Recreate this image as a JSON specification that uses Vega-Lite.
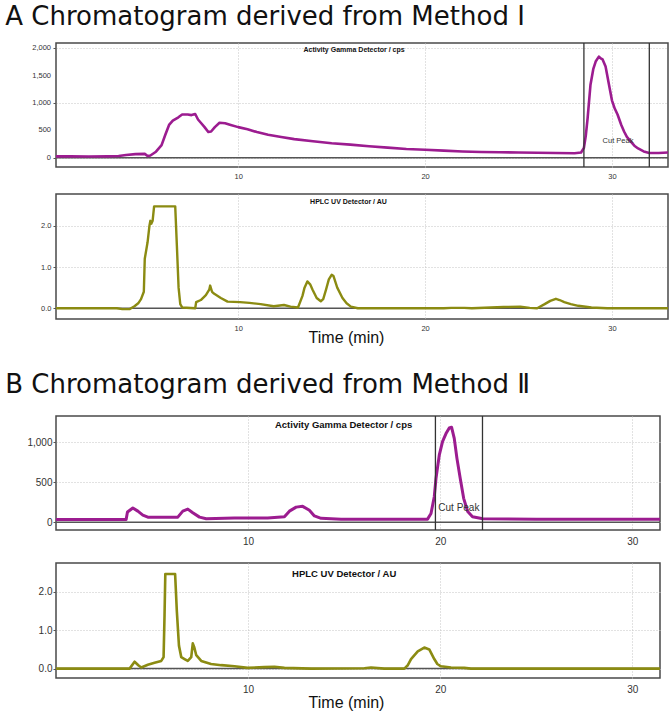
{
  "$schema": "https://vega.github.io/schema/vega-lite/v6.json",
  "background": "white",
  "padding": {"left": 5, "top": 3, "right": 0, "bottom": 0},
  "config": {
    "view": {"stroke": "#4a4a4a", "strokeWidth": 1.5},
    "axis": {
      "labelFont": "Liberation Sans",
      "labelColor": "#333333",
      "labelOverlap": false,
      "titleFont": "Liberation Sans",
      "titleFontWeight": "normal",
      "titleColor": "#111111",
      "grid": true,
      "gridColor": "#c4c4c4",
      "gridDash": [1, 2],
      "gridWidth": 1,
      "domain": false,
      "tickColor": "#555555"
    },
    "title": {"font": "DejaVu Sans", "fontWeight": "normal", "color": "#111111", "anchor": "start", "frame": "bounds"}
  },
  "datasets": {
    "gammaA": [
      {"t": 0, "v": 25}, {"t": 1, "v": 25}, {"t": 2, "v": 22}, {"t": 3, "v": 25}, {"t": 3.6, "v": 30},
      {"t": 4.0, "v": 50}, {"t": 4.5, "v": 65}, {"t": 5.0, "v": 70}, {"t": 5.15, "v": 30}, {"t": 5.3, "v": 40},
      {"t": 5.6, "v": 110}, {"t": 5.9, "v": 230}, {"t": 6.1, "v": 420}, {"t": 6.3, "v": 600}, {"t": 6.5, "v": 680},
      {"t": 6.8, "v": 740}, {"t": 7.0, "v": 790}, {"t": 7.3, "v": 790}, {"t": 7.5, "v": 780}, {"t": 7.7, "v": 800},
      {"t": 7.85, "v": 700}, {"t": 8.0, "v": 640}, {"t": 8.2, "v": 560}, {"t": 8.4, "v": 470}, {"t": 8.55, "v": 480},
      {"t": 8.75, "v": 560}, {"t": 9.0, "v": 640}, {"t": 9.3, "v": 630}, {"t": 9.6, "v": 600}, {"t": 10.0, "v": 560},
      {"t": 10.5, "v": 520}, {"t": 11.0, "v": 470}, {"t": 11.6, "v": 420}, {"t": 12.3, "v": 380}, {"t": 13.0, "v": 340},
      {"t": 14.0, "v": 300}, {"t": 15.0, "v": 265}, {"t": 16.0, "v": 240}, {"t": 17.0, "v": 210}, {"t": 18.0, "v": 185},
      {"t": 19.0, "v": 160}, {"t": 20.0, "v": 145}, {"t": 21.0, "v": 130}, {"t": 22.0, "v": 115}, {"t": 23.0, "v": 105},
      {"t": 24.0, "v": 100}, {"t": 25.0, "v": 95}, {"t": 26.0, "v": 90}, {"t": 27.0, "v": 85}, {"t": 28.0, "v": 82},
      {"t": 28.35, "v": 95}, {"t": 28.5, "v": 180}, {"t": 28.6, "v": 400}, {"t": 28.7, "v": 730}, {"t": 28.85, "v": 1330},
      {"t": 29.0, "v": 1620}, {"t": 29.13, "v": 1760}, {"t": 29.3, "v": 1850}, {"t": 29.4, "v": 1820}, {"t": 29.5, "v": 1800},
      {"t": 29.66, "v": 1670}, {"t": 29.84, "v": 1340}, {"t": 30.0, "v": 1050}, {"t": 30.15, "v": 900}, {"t": 30.3, "v": 790},
      {"t": 30.5, "v": 600}, {"t": 30.65, "v": 480}, {"t": 30.8, "v": 380}, {"t": 31.0, "v": 300}, {"t": 31.2, "v": 220},
      {"t": 31.4, "v": 170}, {"t": 31.7, "v": 115}, {"t": 32.0, "v": 85}, {"t": 32.5, "v": 85}, {"t": 33.0, "v": 95}
    ],
    "uvA": [
      {"t": 0, "v": 0}, {"t": 3.5, "v": 0}, {"t": 3.8, "v": -0.02}, {"t": 4.2, "v": -0.02}, {"t": 4.45, "v": 0.05},
      {"t": 4.65, "v": 0.12}, {"t": 4.8, "v": 0.22}, {"t": 4.95, "v": 0.4}, {"t": 5.0, "v": 1.2}, {"t": 5.15, "v": 1.6},
      {"t": 5.25, "v": 2.0}, {"t": 5.3, "v": 2.12}, {"t": 5.35, "v": 2.05}, {"t": 5.42, "v": 2.12}, {"t": 5.5, "v": 2.47},
      {"t": 6.63, "v": 2.47}, {"t": 6.72, "v": 1.5}, {"t": 6.81, "v": 0.5}, {"t": 6.9, "v": 0.1}, {"t": 7.0, "v": 0.02},
      {"t": 7.7, "v": 0.0}, {"t": 7.75, "v": 0.15}, {"t": 8.0, "v": 0.2}, {"t": 8.27, "v": 0.32}, {"t": 8.45, "v": 0.45},
      {"t": 8.5, "v": 0.55}, {"t": 8.6, "v": 0.4}, {"t": 8.72, "v": 0.35}, {"t": 9.07, "v": 0.25}, {"t": 9.43, "v": 0.16},
      {"t": 10.1, "v": 0.15}, {"t": 10.6, "v": 0.13}, {"t": 11.2, "v": 0.1}, {"t": 11.9, "v": 0.05}, {"t": 12.45, "v": 0.08},
      {"t": 12.8, "v": 0.04}, {"t": 13.2, "v": 0.02}, {"t": 13.44, "v": 0.3}, {"t": 13.55, "v": 0.5}, {"t": 13.7, "v": 0.65},
      {"t": 13.85, "v": 0.58}, {"t": 13.98, "v": 0.45}, {"t": 14.2, "v": 0.25}, {"t": 14.42, "v": 0.17}, {"t": 14.55, "v": 0.22},
      {"t": 14.7, "v": 0.45}, {"t": 14.85, "v": 0.7}, {"t": 15.0, "v": 0.81}, {"t": 15.1, "v": 0.78}, {"t": 15.3, "v": 0.5},
      {"t": 15.58, "v": 0.25}, {"t": 15.8, "v": 0.12}, {"t": 16.03, "v": 0.04}, {"t": 16.4, "v": 0.0}, {"t": 21.0, "v": 0.0},
      {"t": 21.4, "v": 0.01}, {"t": 22.1, "v": 0.01}, {"t": 22.5, "v": 0.0}, {"t": 24.2, "v": 0.03}, {"t": 25.1, "v": 0.04},
      {"t": 25.6, "v": 0.01}, {"t": 26.0, "v": 0.0}, {"t": 26.4, "v": 0.1}, {"t": 26.7, "v": 0.18}, {"t": 27.0, "v": 0.23},
      {"t": 27.2, "v": 0.2}, {"t": 27.45, "v": 0.15}, {"t": 27.8, "v": 0.1}, {"t": 28.2, "v": 0.06}, {"t": 28.9, "v": 0.02},
      {"t": 29.75, "v": 0.0}, {"t": 33.0, "v": 0.0}
    ],
    "gammaB": [
      {"t": 0, "v": 35}, {"t": 3.65, "v": 35}, {"t": 3.72, "v": 130}, {"t": 4.0, "v": 180}, {"t": 4.26, "v": 140},
      {"t": 4.52, "v": 90}, {"t": 4.78, "v": 65}, {"t": 5.82, "v": 62}, {"t": 6.34, "v": 65}, {"t": 6.6, "v": 140},
      {"t": 6.86, "v": 165}, {"t": 7.12, "v": 120}, {"t": 7.47, "v": 65}, {"t": 7.82, "v": 45}, {"t": 9.28, "v": 55},
      {"t": 11.02, "v": 55}, {"t": 11.89, "v": 70}, {"t": 12.15, "v": 140}, {"t": 12.5, "v": 190}, {"t": 12.84, "v": 200},
      {"t": 13.19, "v": 150}, {"t": 13.45, "v": 80}, {"t": 13.8, "v": 50}, {"t": 14.84, "v": 40}, {"t": 19.34, "v": 40},
      {"t": 19.52, "v": 110}, {"t": 19.69, "v": 320}, {"t": 19.78, "v": 550}, {"t": 19.95, "v": 840}, {"t": 20.12, "v": 1010},
      {"t": 20.3, "v": 1110}, {"t": 20.47, "v": 1180}, {"t": 20.59, "v": 1190}, {"t": 20.73, "v": 1050}, {"t": 20.87, "v": 800},
      {"t": 21.04, "v": 550}, {"t": 21.22, "v": 300}, {"t": 21.43, "v": 135}, {"t": 21.68, "v": 70}, {"t": 22.22, "v": 45},
      {"t": 25.0, "v": 40}, {"t": 31.44, "v": 40}
    ],
    "uvB": [
      {"t": 0, "v": 0}, {"t": 3.83, "v": 0}, {"t": 4.09, "v": 0.18}, {"t": 4.3, "v": 0.08}, {"t": 4.44, "v": 0.03},
      {"t": 4.78, "v": 0.1}, {"t": 5.13, "v": 0.15}, {"t": 5.48, "v": 0.2}, {"t": 5.6, "v": 0.3}, {"t": 5.65, "v": 1.4},
      {"t": 5.69, "v": 2.47}, {"t": 6.2, "v": 2.47}, {"t": 6.29, "v": 1.5}, {"t": 6.4, "v": 0.6}, {"t": 6.52, "v": 0.3},
      {"t": 6.69, "v": 0.25}, {"t": 6.86, "v": 0.2}, {"t": 7.04, "v": 0.3}, {"t": 7.12, "v": 0.66}, {"t": 7.2, "v": 0.55},
      {"t": 7.3, "v": 0.35}, {"t": 7.56, "v": 0.2}, {"t": 8.07, "v": 0.12}, {"t": 8.6, "v": 0.09}, {"t": 9.29, "v": 0.06},
      {"t": 9.98, "v": 0.02}, {"t": 10.85, "v": 0.04}, {"t": 11.37, "v": 0.05}, {"t": 11.89, "v": 0.02}, {"t": 13.28, "v": 0.0},
      {"t": 16.05, "v": 0.01}, {"t": 16.4, "v": 0.03}, {"t": 17.09, "v": 0.0}, {"t": 18.13, "v": 0.0}, {"t": 18.3, "v": 0.08},
      {"t": 18.48, "v": 0.25}, {"t": 18.83, "v": 0.45}, {"t": 19.17, "v": 0.55}, {"t": 19.43, "v": 0.5}, {"t": 19.69, "v": 0.25},
      {"t": 19.85, "v": 0.12}, {"t": 20.04, "v": 0.06}, {"t": 20.56, "v": 0.03}, {"t": 21.25, "v": 0.02}, {"t": 21.6, "v": 0.0},
      {"t": 31.44, "v": 0.0}
    ]
  },
  "spacing": 24,
  "vconcat": [
    {
      "title": {"text": "A  Chromatogram derived from Method  Ⅰ", "fontSize": 26, "offset": 12},
      "spacing": 12,
      "vconcat": [
        {
          "width": 612,
          "height": 124,
          "layer": [
            {
              "data": {"values": [{"v": 0}]},
              "mark": {"type": "rule", "color": "#555555", "strokeWidth": 1.5},
              "encoding": {"y": {"field": "v", "type": "quantitative", "title": null,
                  "scale": {"domain": [-170, 2100], "nice": false, "zero": false},
                  "axis": {"values": [0, 250, 500, 750, 1000, 1250, 1500, 1750, 2000],
                    "labels": false,
                    "gridOpacity": {"condition": {"test": "datum.value % 500 === 0", "value": 1}, "value": 0},
                    "tickSize": {"condition": {"test": "datum.value % 500 === 0", "value": 3}, "value": 2},
                    "minExtent": 50, "maxExtent": 50}}}
            },
            {
              "data": {"name": "gammaA"},
              "mark": {"type": "line", "color": "#9c1c90", "strokeWidth": 2.6, "strokeJoin": "round", "clip": true},
              "encoding": {
                "x": {"field": "t", "type": "quantitative", "title": null,
                  "scale": {"domain": [0.25, 33], "nice": false, "zero": false},
                  "axis": {"values": [10, 20, 30], "labelOverlap": false, "labelFontSize": 7.5, "tickSize": 0, "labelPadding": 5}},
                "y": {"field": "v", "type": "quantitative", "title": null}
              }
            },
            {
              "data": {"values": [{"v": 0, "label": "0"}, {"v": 500, "label": "500"}, {"v": 1000, "label": "1,000"}, {"v": 1500, "label": "1,500"}, {"v": 2000, "label": "2,000"}]},
              "mark": {"type": "text", "font": "Liberation Sans", "fontSize": 7.5, "align": "right", "baseline": "middle", "dx": -5, "color": "#333333"},
              "encoding": {"x": {"datum": 0.25, "type": "quantitative"}, "y": {"field": "v", "type": "quantitative", "title": null}, "text": {"field": "label"}}
            },
            {
              "data": {"values": [{"t": 28.5}, {"t": 32.0}]},
              "mark": {"type": "rule", "color": "#333333", "strokeWidth": 1.3},
              "encoding": {"x": {"field": "t", "type": "quantitative", "title": null}}
            },
            {
              "data": {"values": [{"t": 16.2, "v": 1965, "label": "Activity Gamma Detector / cps"}]},
              "mark": {"type": "text", "font": "Liberation Sans", "fontWeight": "bold", "fontSize": 7, "color": "#111111"},
              "encoding": {"x": {"field": "t", "type": "quantitative", "title": null}, "y": {"field": "v", "type": "quantitative", "title": null}, "text": {"field": "label"}}
            },
            {
              "data": {"values": [{"t": 29.5, "v": 300, "label": "Cut Peak"}]},
              "mark": {"type": "text", "font": "Liberation Sans", "fontSize": 7.5, "align": "left", "color": "#333333"},
              "encoding": {"x": {"field": "t", "type": "quantitative", "title": null}, "y": {"field": "v", "type": "quantitative", "title": null}, "text": {"field": "label"}}
            }
          ]
        },
        {
          "width": 612,
          "height": 125,
          "layer": [
            {
              "data": {"values": [{"v": 0}]},
              "mark": {"type": "rule", "color": "#555555", "strokeWidth": 1.5},
              "encoding": {"y": {"field": "v", "type": "quantitative", "title": null,
                  "scale": {"domain": [-0.26, 2.77], "nice": false, "zero": false},
                  "axis": {"values": [0, 0.5, 1, 1.5, 2, 2.5],
                    "labelExpr": "datum.value % 1 === 0 ? format(datum.value, '.1f') : ''",
                    "labelOverlap": false,
                    "gridOpacity": {"condition": {"test": "datum.value % 1 === 0", "value": 1}, "value": 0},
                    "tickSize": {"condition": {"test": "datum.value % 1 === 0", "value": 3}, "value": 2},
                    "labelFontSize": 7.5, "labelPadding": 2, "minExtent": 50, "maxExtent": 50}}}
            },
            {
              "data": {"name": "uvA"},
              "mark": {"type": "line", "color": "#8b8b12", "strokeWidth": 2.4, "strokeJoin": "round", "clip": true},
              "encoding": {
                "x": {"field": "t", "type": "quantitative", "title": "Time (min)",
                  "scale": {"domain": [0.25, 33], "nice": false, "zero": false},
                  "axis": {"values": [10, 20, 30], "labelOverlap": false, "labelFontSize": 7.5, "tickSize": 0, "labelPadding": 5, "titleFontSize": 16, "titlePadding": -2, "titleX": 290}},
                "y": {"field": "v", "type": "quantitative", "title": null}
              }
            },
            {
              "data": {"values": [{"t": 15.9, "v": 2.57, "label": "HPLC UV Detector / AU"}]},
              "mark": {"type": "text", "font": "Liberation Sans", "fontWeight": "bold", "fontSize": 7, "color": "#111111"},
              "encoding": {"x": {"field": "t", "type": "quantitative", "title": "Time (min)"}, "y": {"field": "v", "type": "quantitative", "title": null}, "text": {"field": "label"}}
            }
          ]
        }
      ]
    },
    {
      "title": {"text": "B  Chromatogram derived from Method  Ⅱ", "fontSize": 26, "offset": 17},
      "spacing": 15,
      "vconcat": [
        {
          "width": 604,
          "height": 114,
          "layer": [
            {
              "data": {"values": [{"v": 0}]},
              "mark": {"type": "rule", "color": "#555555", "strokeWidth": 1.5},
              "encoding": {"y": {"field": "v", "type": "quantitative", "title": null,
                  "scale": {"domain": [-96, 1330], "nice": false, "zero": false},
                  "axis": {"values": [0, 250, 500, 750, 1000, 1250],
                    "labelExpr": "datum.value % 500 === 0 ? format(datum.value, ',d') : ''",
                    "labelOverlap": false,
                    "gridOpacity": {"condition": {"test": "datum.value % 500 === 0", "value": 1}, "value": 0},
                    "tickSize": {"condition": {"test": "datum.value % 500 === 0", "value": 3}, "value": 2},
                    "labelFontSize": 10, "labelPadding": 1, "minExtent": 50, "maxExtent": 50}}}
            },
            {
              "data": {"name": "gammaB"},
              "mark": {"type": "line", "color": "#9c1c90", "strokeWidth": 3, "strokeJoin": "round", "clip": true},
              "encoding": {
                "x": {"field": "t", "type": "quantitative", "title": null,
                  "scale": {"domain": [0, 31.44], "nice": false, "zero": false},
                  "axis": {"values": [10, 20, 30], "labelOverlap": false, "labelFontSize": 10, "tickSize": 0, "labelPadding": 6}},
                "y": {"field": "v", "type": "quantitative", "title": null}
              }
            },
            {
              "data": {"values": [{"t": 19.75}, {"t": 22.2}]},
              "mark": {"type": "rule", "color": "#333333", "strokeWidth": 1.3},
              "encoding": {"x": {"field": "t", "type": "quantitative", "title": null}}
            },
            {
              "data": {"values": [{"t": 14.97, "v": 1212, "label": "Activity Gamma Detector / cps"}]},
              "mark": {"type": "text", "font": "Liberation Sans", "fontWeight": "bold", "fontSize": 9.5, "color": "#111111"},
              "encoding": {"x": {"field": "t", "type": "quantitative", "title": null}, "y": {"field": "v", "type": "quantitative", "title": null}, "text": {"field": "label"}}
            },
            {
              "data": {"values": [{"t": 19.9, "v": 184, "label": "Cut Peak"}]},
              "mark": {"type": "text", "font": "Liberation Sans", "fontSize": 10, "align": "left", "color": "#333333"},
              "encoding": {"x": {"field": "t", "type": "quantitative", "title": null}, "y": {"field": "v", "type": "quantitative", "title": null}, "text": {"field": "label"}}
            }
          ]
        },
        {
          "width": 604,
          "height": 115,
          "layer": [
            {
              "data": {"values": [{"v": 0}]},
              "mark": {"type": "rule", "color": "#555555", "strokeWidth": 1.5},
              "encoding": {"y": {"field": "v", "type": "quantitative", "title": null,
                  "scale": {"domain": [-0.245, 2.757], "nice": false, "zero": false},
                  "axis": {"values": [0, 0.5, 1, 1.5, 2, 2.5],
                    "labelExpr": "datum.value % 1 === 0 ? format(datum.value, '.1f') : ''",
                    "labelOverlap": false,
                    "gridOpacity": {"condition": {"test": "datum.value % 1 === 0", "value": 1}, "value": 0},
                    "tickSize": {"condition": {"test": "datum.value % 1 === 0", "value": 3}, "value": 2},
                    "labelFontSize": 10, "labelPadding": 1, "minExtent": 50, "maxExtent": 50}}}
            },
            {
              "data": {"name": "uvB"},
              "mark": {"type": "line", "color": "#8b8b12", "strokeWidth": 2.6, "strokeJoin": "round", "clip": true},
              "encoding": {
                "x": {"field": "t", "type": "quantitative", "title": "Time (min)",
                  "scale": {"domain": [0, 31.44], "nice": false, "zero": false},
                  "axis": {"values": [10, 20, 30], "labelOverlap": false, "labelFontSize": 10, "tickSize": 0, "labelPadding": 6, "titleFontSize": 16, "titlePadding": 0, "titleX": 290}},
                "y": {"field": "v", "type": "quantitative", "title": null}
              }
            },
            {
              "data": {"values": [{"t": 15.0, "v": 2.47, "label": "HPLC UV Detector / AU"}]},
              "mark": {"type": "text", "font": "Liberation Sans", "fontWeight": "bold", "fontSize": 9.5, "color": "#111111"},
              "encoding": {"x": {"field": "t", "type": "quantitative", "title": "Time (min)"}, "y": {"field": "v", "type": "quantitative", "title": null}, "text": {"field": "label"}}
            }
          ]
        }
      ]
    }
  ]
}
